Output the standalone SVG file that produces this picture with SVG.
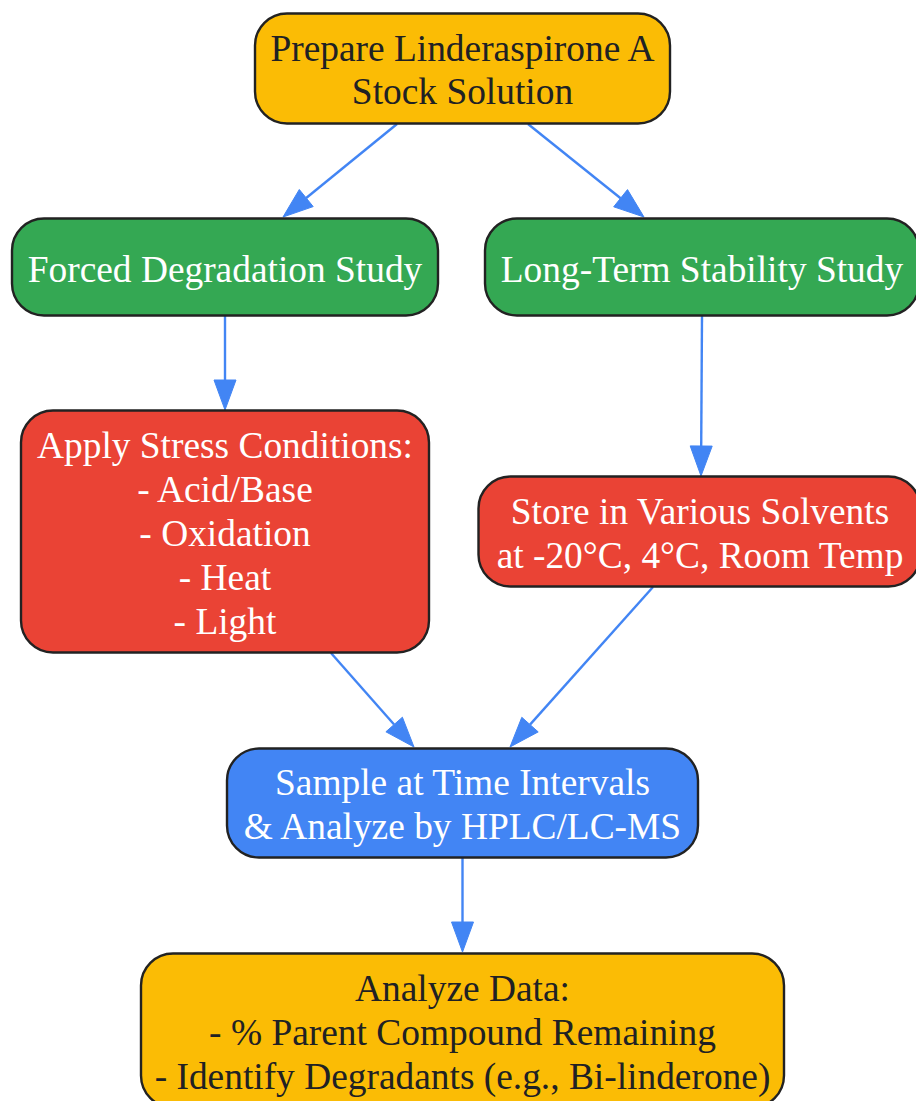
<svg xmlns="http://www.w3.org/2000/svg" width="916" height="1101" viewBox="0 0 916 1101">
<style>
.n{stroke:#222222;stroke-width:2.4}
.t{font-family:"Liberation Serif","Times New Roman",serif;font-size:37.4px;text-anchor:middle}
.dk{fill:#202124}
.wh{fill:#ffffff}
.e{stroke:#4285F4;stroke-width:2.4;fill:none}
.h{fill:#4285F4;stroke:#4285F4;stroke-width:1}
</style>
<rect width="916" height="1101" fill="#ffffff"/>
<g id="connectors">
<path class="e" d="M397,124 L306.2,198"/>
<polygon class="h" points="283,217 313.2,206.6 299.3,189.5"/>
<path class="e" d="M528,124 L620.6,198.2"/>
<polygon class="h" points="644,217 613.7,206.8 627.5,189.6"/>
<path class="e" d="M225,316 L225,380"/>
<polygon class="h" points="225,410 214,380 236,380"/>
<path class="e" d="M702,316 L701.2,446"/>
<polygon class="h" points="701,476 690.2,445.9 712.2,446.1"/>
<path class="e" d="M331,653 L394.1,724.5"/>
<polygon class="h" points="414,747 385.9,731.8 402.4,717.2"/>
<path class="e" d="M653,587 L530,724.6"/>
<polygon class="h" points="510,747 538.2,731.9 521.8,717.3"/>
<path class="e" d="M462.5,858 L462.5,922"/>
<polygon class="h" points="462.5,952 451.5,922 473.5,922"/>
</g>
<g id="prepare">
<rect class="n" x="255" y="13.5" width="415" height="110" rx="32" fill="#FBBC05"/>
<text class="t dk" x="462.5" y="60.5">Prepare Linderaspirone A</text>
<text class="t dk" x="462.5" y="103.5">Stock Solution</text>
</g>
<g id="forced">
<rect class="n" x="12" y="218.5" width="426" height="97" rx="32" fill="#34A853"/>
<text class="t wh" x="225" y="281.5">Forced Degradation Study</text>
</g>
<g id="longterm">
<rect class="n" x="485" y="218.5" width="434" height="97" rx="32" fill="#34A853"/>
<text class="t wh" x="702" y="281.5">Long-Term Stability Study</text>
</g>
<g id="stress">
<rect class="n" x="21" y="410.5" width="408" height="242" rx="32" fill="#EA4335"/>
<text class="t wh" x="225" y="457.5">Apply Stress Conditions:</text>
<text class="t wh" x="225" y="501.5">- Acid/Base</text>
<text class="t wh" x="225" y="545.5">- Oxidation</text>
<text class="t wh" x="225" y="589.5">- Heat</text>
<text class="t wh" x="225" y="633.5">- Light</text>
</g>
<g id="store">
<rect class="n" x="478.5" y="476.5" width="442" height="110" rx="32" fill="#EA4335"/>
<text class="t wh" x="700" y="523.5">Store in Various Solvents</text>
<text class="t wh" x="700" y="567.5">at -20°C, 4°C, Room Temp</text>
</g>
<g id="sample">
<rect class="n" x="227" y="748.5" width="471" height="109" rx="32" fill="#4285F4"/>
<text class="t wh" x="462.5" y="794.5">Sample at Time Intervals</text>
<text class="t wh" x="462.5" y="838.5">&amp; Analyze by HPLC/LC-MS</text>
</g>
<g id="analyze">
<rect class="n" x="141" y="953.5" width="643" height="154" rx="32" fill="#FBBC05"/>
<text class="t dk" x="462.5" y="1000.5">Analyze Data:</text>
<text class="t dk" x="462.5" y="1044.5">- % Parent Compound Remaining</text>
<text class="t dk" x="462.5" y="1088.5">- Identify Degradants (e.g., Bi-linderone)</text>
</g>
</svg>
